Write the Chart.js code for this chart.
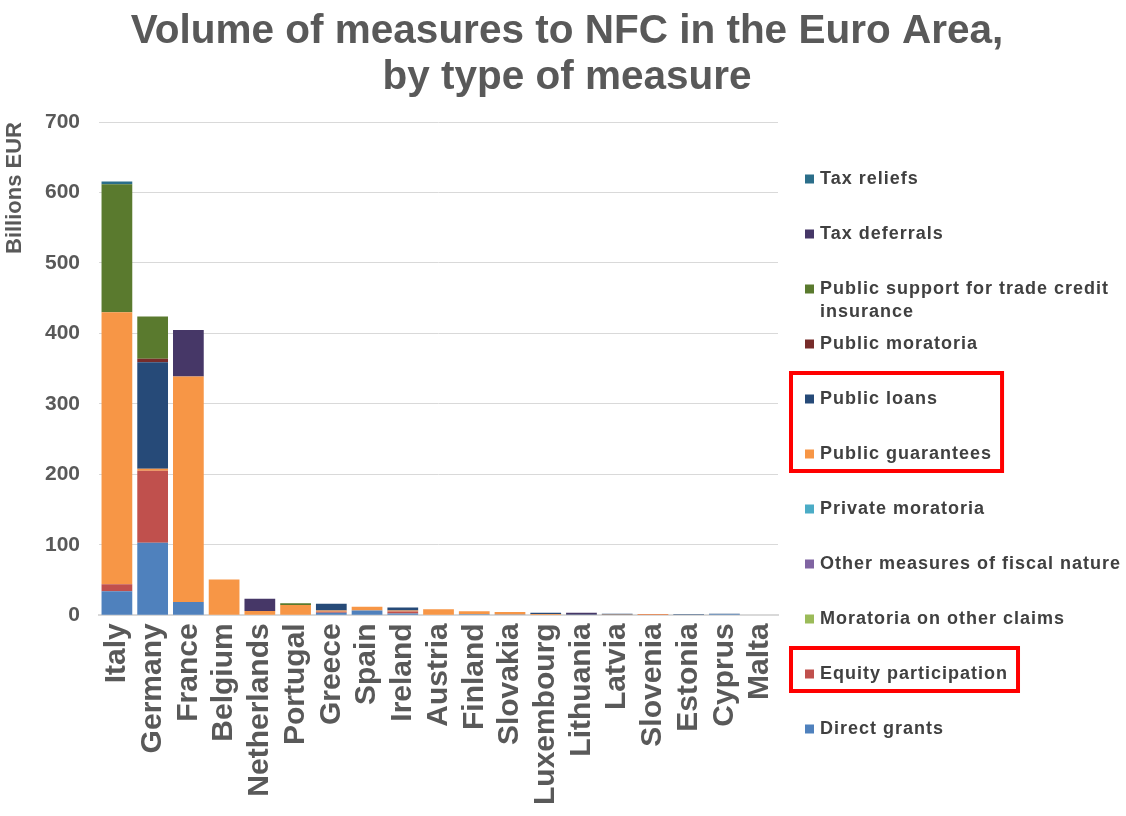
<!DOCTYPE html>
<html>
<head>
<meta charset="utf-8">
<script src="https://cdn.jsdelivr.net/npm/chart.js@4/dist/chart.umd.min.js"></script>
<style>
  html, body { margin: 0; padding: 0; background: #ffffff; }
  #wrap { width: 1126px; height: 816px; position: relative; }
</style>
</head>
<body>
<div id="wrap"><canvas id="chart" width="1126" height="816"></canvas></div>
<script>
// Countries of the euro area, largest support volume first
const countries = ['Italy', 'Germany', 'France', 'Belgium', 'Netherlands', 'Portugal', 'Greece', 'Spain',
  'Ireland', 'Austria', 'Finland', 'Slovakia', 'Luxembourg', 'Lithuania', 'Latvia', 'Slovenia',
  'Estonia', 'Cyprus', 'Malta'];

// Volumes per measure type, billions EUR (same order as countries)
const directGrants         = [34, 103, 19, 0, 0, 0, 3.5, 7, 2.5, 0, 1.7, 1.2, 0, 0, 0, 0, 0.7, 1.4, 0];
const equityParticipation  = [10, 102, 0, 0, 0, 0, 1.5, 0, 3, 0, 0, 0, 0, 0, 0, 0.4, 0, 0, 0];
const moratoriaOtherClaims = [0, 0, 0, 0, 0, 0, 0, 0, 0, 0, 0, 0, 0, 0, 0, 0, 0, 0, 0];
const otherFiscalMeasures  = [0, 0, 0, 0, 0, 0, 0, 0, 0, 0, 0, 0, 0, 0, 0, 0, 0, 0, 0];
const privateMoratoria     = [0, 0, 0, 0, 0, 0, 0, 0, 0, 0, 0, 0, 0, 0, 0, 0, 0, 0, 0];
const publicGuarantees     = [386, 3, 320, 51, 6, 14.7, 2, 5.2, 1.5, 8.5, 4, 3.5, 2, 0, 1.2, 1.0, 0, 0, 1.0];
const publicLoans          = [0, 151, 0, 0, 0, 0, 9.5, 0, 4, 0, 0, 0, 1.8, 1.3, 1.2, 0, 0.7, 1.0, 0];
const publicMoratoria      = [0, 5, 0, 0, 0, 0, 0, 0, 0, 0, 0, 0, 0, 0, 0, 0, 0, 0, 0];
const tradeCreditSupport   = [181.5, 60, 0, 0, 0, 2.4, 0, 0, 0, 0, 0, 0, 0, 0, 0, 0, 0, 0, 0];
const taxDeferrals         = [0, 0, 66, 0, 17.5, 0, 0, 0, 0, 0, 0, 0, 0, 2.5, 0, 0, 0, 0, 0];
const taxReliefs           = [4, 0, 0, 0, 0, 0, 0, 0, 0, 0, 0, 0, 0, 0, 0, 0, 0, 0, 0];

const yTicks = [0, 100, 200, 300, 400, 500, 600, 700];

const titleLines = ['Volume of measures to NFC in the Euro Area,', 'by type of measure'];

// Stack order: first series sits at the bottom of each bar
const series = [
  { label: 'Direct grants', data: directGrants, color: '#4f81bd' },
  { label: 'Equity participation', data: equityParticipation, color: '#c0504d' },
  { label: 'Moratoria on other claims', data: moratoriaOtherClaims, color: '#9bbb59' },
  { label: 'Other measures of fiscal nature', data: otherFiscalMeasures, color: '#8064a2' },
  { label: 'Private moratoria', data: privateMoratoria, color: '#4bacc6' },
  { label: 'Public guarantees', data: publicGuarantees, color: '#f79646' },
  { label: 'Public loans', data: publicLoans, color: '#264a78' },
  { label: 'Public moratoria', data: publicMoratoria, color: '#772c2a' },
  { label: 'Public support for trade credit insurance', data: tradeCreditSupport, color: '#5a7a2e' },
  { label: 'Tax deferrals', data: taxDeferrals, color: '#463767' },
  { label: 'Tax reliefs', data: taxReliefs, color: '#2b6e8a' }
];

// Legend entries grouped inside red frames
const framedGroups = [['Public loans', 'Public guarantees'], ['Equity participation']];

const FONT = '"Liberation Sans", Arial, Helvetica, sans-serif';
const GREY = '#595959';

// Two-line heading centred on the whole canvas
const pageTitle = {
  id: 'pageTitle',
  afterDraw(chart) {
    const ctx = chart.ctx;
    ctx.save();
    ctx.font = 'bold 40.5px ' + FONT;
    ctx.fillStyle = GREY;
    ctx.textAlign = 'center';
    ctx.textBaseline = 'alphabetic';
    titleLines.forEach((t, i) => ctx.fillText(t, chart.width / 2 + 4, 43 + i * 46));
    ctx.restore();
  }
};

// Right-hand legend drawn on the canvas, top entry = top of the stack
const sideLegend = {
  id: 'sideLegend',
  afterDraw(chart) {
    const ctx = chart.ctx;
    const items = chart.data.datasets.slice().reverse();
    const x0 = 805, textX = 820, firstY = 179, step = 55, maxW = 310, lineH = 23;
    ctx.save();
    ctx.font = 'bold 18px ' + FONT;
    if ('letterSpacing' in ctx) ctx.letterSpacing = '1px';
    ctx.textBaseline = 'middle';
    ctx.textAlign = 'left';
    const rows = {};
    items.forEach((ds, i) => {
      const y = firstY + i * step;
      ctx.fillStyle = ds.backgroundColor;
      ctx.fillRect(x0, y - 4.5, 9, 9);
      // wrap long labels word by word
      const words = ds.label.split(' ');
      const lines = [];
      let cur = '';
      words.forEach(w => {
        const t = cur ? cur + ' ' + w : w;
        if (ctx.measureText(t).width > maxW && cur) { lines.push(cur); cur = w; } else { cur = t; }
      });
      lines.push(cur);
      ctx.fillStyle = '#404040';
      let w = 0;
      lines.forEach((ln, k) => {
        ctx.fillText(ln, textX, y + k * lineH);
        w = Math.max(w, ctx.measureText(ln).width);
      });
      rows[ds.label] = { y, w };
    });
    ctx.restore();

    ctx.save();
    ctx.strokeStyle = '#ff0000';
    ctx.lineWidth = 4;
    framedGroups.forEach(group => {
      const rs = group.map(n => rows[n]);
      const top = Math.min(...rs.map(r => r.y)) - 26;
      const bottom = Math.max(...rs.map(r => r.y)) + 17;
      const right = textX + Math.max(...rs.map(r => r.w)) + 10;
      ctx.strokeRect(791, top, right - 791, bottom - top);
    });
    ctx.restore();
  }
};

new Chart(document.getElementById('chart'), {
  type: 'bar',
  data: {
    labels: countries,
    datasets: series.map(s => ({
      label: s.label,
      data: s.data,
      backgroundColor: s.color,
      borderWidth: 0,
      barPercentage: 0.86,
      categoryPercentage: 1.0
    }))
  },
  options: {
    responsive: false,
    animation: false,
    layout: { padding: { left: 0, right: 348, top: 122, bottom: 3 } },
    plugins: {
      legend: { display: false },
      tooltip: { enabled: false },
      title: { display: false }
    },
    scales: {
      x: {
        stacked: true,
        grid: { display: false, drawTicks: false },
        border: { display: true, color: '#d9d9d9', width: 2 },
        ticks: {
          autoSkip: false,
          maxRotation: 90,
          minRotation: 90,
          padding: 8,
          color: GREY,
          font: { family: FONT, size: 30, weight: 'bold' }
        }
      },
      y: {
        stacked: true,
        min: 0,
        max: 700,
        afterBuildTicks(axis) { axis.ticks = yTicks.map(v => ({ value: v })); },
        grid: { color: '#d9d9d9', lineWidth: 1, drawTicks: false },
        border: { display: false },
        ticks: {
          padding: 19,
          color: GREY,
          font: { family: FONT, size: 21, weight: 'bold' }
        },
        title: {
          display: true,
          text: 'Billions EUR',
          align: 'end',
          color: GREY,
          font: { family: FONT, size: 22, weight: 'bold', lineHeight: 1.0 },
          padding: { top: 4, bottom: 0 }
        }
      }
    }
  },
  plugins: [pageTitle, sideLegend]
});
</script>
</body>
</html>
